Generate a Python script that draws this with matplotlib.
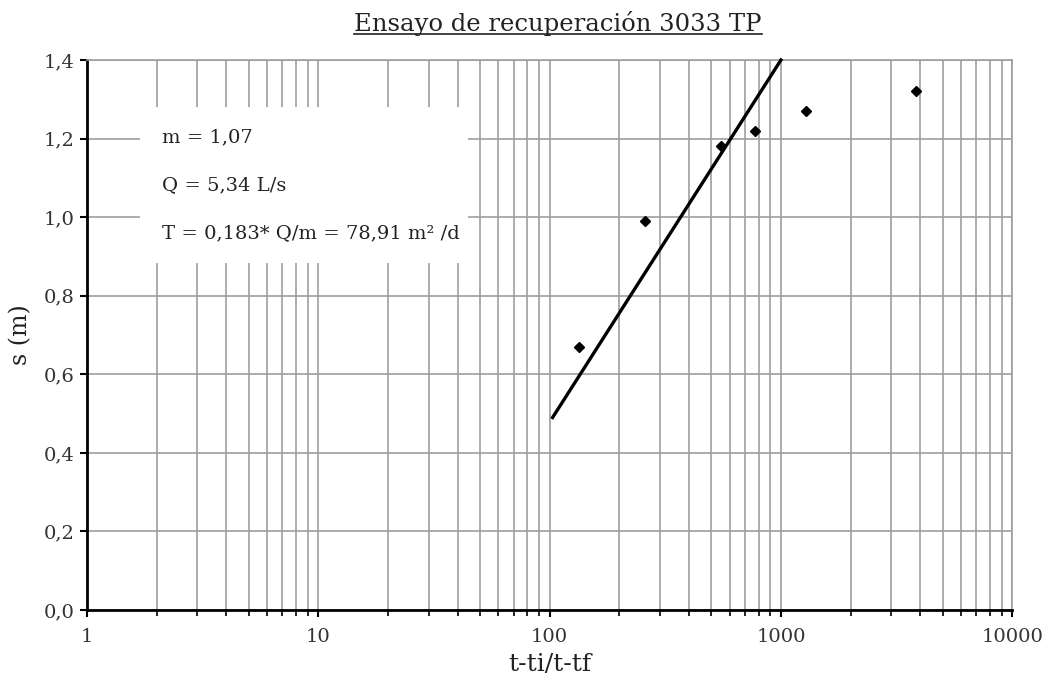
import matplotlib
matplotlib.use("Agg")
import matplotlib.pyplot as plt
from matplotlib.ticker import FuncFormatter, LogLocator, FixedLocator
from matplotlib.lines import Line2D
from matplotlib.patches import Rectangle

plt.rcParams['font.family'] = ['DejaVu Serif']

# recovery test readings
t_ratio = [134, 259, 552, 774, 1286, 3846]
drawdown = [0.67, 0.99, 1.18, 1.22, 1.27, 1.32]

# straight-line fit drawn on the semi-log plot
fit_x = [103, 1000]
fit_y = [0.49, 1.40]

info_lines = ["m = 1,07", "Q = 5,34 L/s", "T = 0,183* Q/m = 78,91 m² /d"]

fig = plt.figure(figsize=(10.52, 6.79), dpi=100)
ax = fig.add_axes([0.0827, 0.1016, 0.8795, 0.81])

ax.set_xscale('log')
ax.set_xlim(1, 10000)
ax.set_ylim(0, 1.4)

grid_col = '#9e9e9e'
ax.grid(True, which='major', color=grid_col, lw=1.2)
ax.grid(True, which='minor', axis='x', color=grid_col, lw=1.2)
ax.xaxis.set_minor_locator(LogLocator(base=10, subs=range(2, 10)))
ax.yaxis.set_major_locator(FixedLocator([0, 0.2, 0.4, 0.6, 0.8, 1.0, 1.2, 1.4]))
ax.yaxis.set_major_formatter(FuncFormatter(lambda v, p: f"{v:.1f}".replace('.', ',')))
ax.xaxis.set_major_formatter(FuncFormatter(lambda v, p: f"{v:.0f}"))
ax.xaxis.set_minor_formatter(FuncFormatter(lambda v, p: ""))

for s in ['top', 'right']:
    ax.spines[s].set_color(grid_col)
    ax.spines[s].set_linewidth(1.2)
for s in ['left', 'bottom']:
    ax.spines[s].set_color('black')
    ax.spines[s].set_linewidth(2)

ax.tick_params(axis='both', which='major', direction='out', length=5, width=1.5,
               colors='black', labelsize=14, labelcolor='#333333')
ax.tick_params(axis='x', which='minor', direction='out', length=4, width=1.2)
ax.tick_params(axis='x', pad=8)
ax.tick_params(axis='y', pad=4)

ax.plot(fit_x, fit_y, color='black', lw=2.4, zorder=4, clip_on=False)
ax.plot(t_ratio, drawdown, linestyle='none', marker='D', ms=5, color='black', zorder=5)

# white panel with the results, covering the grid
ax.add_patch(Rectangle((0.0573, 0.631), 0.355, 0.2836, transform=ax.transAxes,
                       facecolor='white', edgecolor='none', zorder=3))
for i, line in enumerate(info_lines):
    ax.text(0.081, 0.860 - i * 0.0873, line, transform=ax.transAxes,
            fontsize=14, color='#222222', va='center', ha='left', zorder=6)

ax.set_xlabel('t-ti/t-tf', fontsize=18, color='#222222', labelpad=5)
ax.set_ylabel('s (m)', fontsize=17, color='#222222', labelpad=8)

title = fig.text(0.5305, 0.966, 'Ensayo de recuperación 3033 TP', fontsize=17.5,
                 color='#222222', ha='center', va='center')

# underline the title
fig.canvas.draw()
bb = title.get_window_extent().transformed(fig.transFigure.inverted())
fig.add_artist(Line2D([bb.x0, bb.x1], [bb.y0 + 0.002, bb.y0 + 0.002],
                      transform=fig.transFigure, color='#222222', lw=1.2))

fig.savefig('out.png', dpi=100)
